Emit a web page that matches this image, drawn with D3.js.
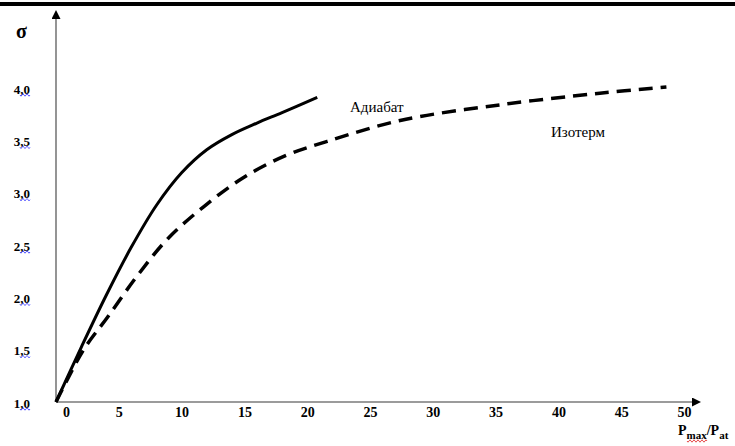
<!DOCTYPE html>
<html>
<head>
<meta charset="utf-8">
<script src="https://cdn.jsdelivr.net/npm/d3@7"></script>
<style>
  body { margin: 0; background: #fff; }
  svg { display: block; }
</style>
</head>
<body>
<script>
// данные
let xTicks = [0, 5, 10, 15, 20, 25, 30, 35, 40, 45, 50];
let yTicks = [1.0, 1.5, 2.0, 2.5, 3.0, 3.5, 4.0];

let adiabatX = [0, 2, 4, 6, 8, 10, 12, 14, 16, 18, 20.8];
let adiabatY = [1.0, 1.52, 2.02, 2.48, 2.88, 3.19, 3.41, 3.555, 3.665, 3.765, 3.91];

let isothermX = [0, 2.2, 4.1, 6.5, 8.9, 11.8, 15.0, 18.4, 21.6, 27.4, 35.4, 43.3, 48.6];
let isothermY = [1.0, 1.50, 1.81, 2.21, 2.56, 2.87, 3.15, 3.36, 3.49, 3.69, 3.84, 3.95, 4.01];

let width = 735, height = 446;
let serif = "'Liberation Serif', 'Times New Roman', serif";

let svg = d3.select("body").append("svg")
    .attr("width", width)
    .attr("height", height);

// верхняя черная полоса
svg.append("rect")
    .attr("x", 0).attr("y", 2)
    .attr("width", width).attr("height", 4)
    .attr("fill", "#000");

let x = d3.scaleLinear().domain([0, 50]).range([56, 684]);
let y = d3.scaleLinear().domain([1, 4]).range([402, 88]);

let defs = svg.append("defs");
defs.append("marker")
    .attr("id", "arrow")
    .attr("viewBox", "0 0 10 10")
    .attr("refX", 0).attr("refY", 5)
    .attr("markerWidth", 9).attr("markerHeight", 9)
    .attr("markerUnits", "userSpaceOnUse")
    .attr("orient", "auto")
  .append("path")
    .attr("d", "M0,0 L10,5 L0,10 Z")
    .attr("fill", "#000");

// оси
svg.append("line")
    .attr("x1", x(0)).attr("y1", y(1))
    .attr("x2", 692).attr("y2", y(1))
    .attr("stroke", "#7a7a7a").attr("stroke-width", 1.6)
    .attr("marker-end", "url(#arrow)");

svg.append("line")
    .attr("x1", x(0)).attr("y1", y(1))
    .attr("x2", x(0)).attr("y2", 19)
    .attr("stroke", "#7a7a7a").attr("stroke-width", 1.6)
    .attr("marker-end", "url(#arrow)");

let gx = svg.append("g")
    .attr("transform", "translate(0," + y(1) + ")")
    .call(d3.axisBottom(x).tickValues(xTicks).tickSize(0).tickPadding(5).tickFormat(d => d));
gx.select(".domain").remove();
gx.selectAll("text")
    .style("font-family", serif)
    .style("font-size", "14px")
    .style("font-weight", "bold")
    .style("fill", "#000")
    .attr("dx", d => d === 0 ? 10 : 0);

let gy = svg.append("g")
    .attr("transform", "translate(" + x(0) + ",0)")
    .call(d3.axisLeft(y).tickValues(yTicks).tickSize(0).tickPadding(26)
        .tickFormat(d => d3.format(".1f")(d).replace(".", ",")));
gy.select(".domain").remove();
gy.selectAll("text")
    .style("font-family", serif)
    .style("font-size", "13px")
    .style("font-weight", "bold")
    .style("fill", "#000")
    .attr("dy", "0.4em");

// волнистое подчеркивание (проверка орфографии)
function wavy(x0, x1, yy) {
    let p = d3.path();
    p.moveTo(x0, yy);
    for (let xx = x0; xx < x1; xx += 2) {
        p.lineTo(xx + 1, yy + ((xx - x0) / 2 % 2 === 0 ? 1.2 : -1.2));
        p.lineTo(xx + 2, yy);
    }
    return p.toString();
}
yTicks.forEach(t => {
    svg.append("path")
        .attr("d", wavy(20, 30, y(t) + 7))
        .attr("fill", "none")
        .attr("stroke", "#2a2aff")
        .attr("stroke-width", 0.8);
});

// кривые
let line = d3.line()
    .x(d => x(d[0]))
    .y(d => y(d[1]))
    .curve(d3.curveCatmullRom.alpha(0.5));

svg.append("path")
    .datum(d3.zip(adiabatX, adiabatY))
    .attr("d", line)
    .attr("fill", "none")
    .attr("stroke", "#000")
    .attr("stroke-width", 3);

svg.append("path")
    .datum(d3.zip(isothermX, isothermY))
    .attr("d", line)
    .attr("fill", "none")
    .attr("stroke", "#000")
    .attr("stroke-width", 3.5)
    .attr("stroke-dasharray", "14,8");

// подписи
svg.append("text")
    .attr("x", 350).attr("y", 112)
    .style("font-family", serif).style("font-size", "15px")
    .text("Адиабат");

svg.append("text")
    .attr("x", 551).attr("y", 137)
    .style("font-family", serif).style("font-size", "15px")
    .text("Изотерм");

svg.append("text")
    .attr("x", 16).attr("y", 38)
    .style("font-family", serif).style("font-size", "20px").style("font-weight", "bold")
    .text("σ");

let xl = svg.append("text")
    .attr("x", 678).attr("y", 435)
    .style("font-family", serif).style("font-size", "14px").style("font-weight", "bold");
xl.append("tspan").text("P");
xl.append("tspan").style("font-size", "11px").attr("dy", 4).text("max");
xl.append("tspan").attr("dy", -4).text("/P");
xl.append("tspan").style("font-size", "11px").attr("dy", 4).text("at");

svg.append("path")
    .attr("d", wavy(687, 707, 441))
    .attr("fill", "none")
    .attr("stroke", "#e02020")
    .attr("stroke-width", 0.8);
</script>
</body>
</html>
